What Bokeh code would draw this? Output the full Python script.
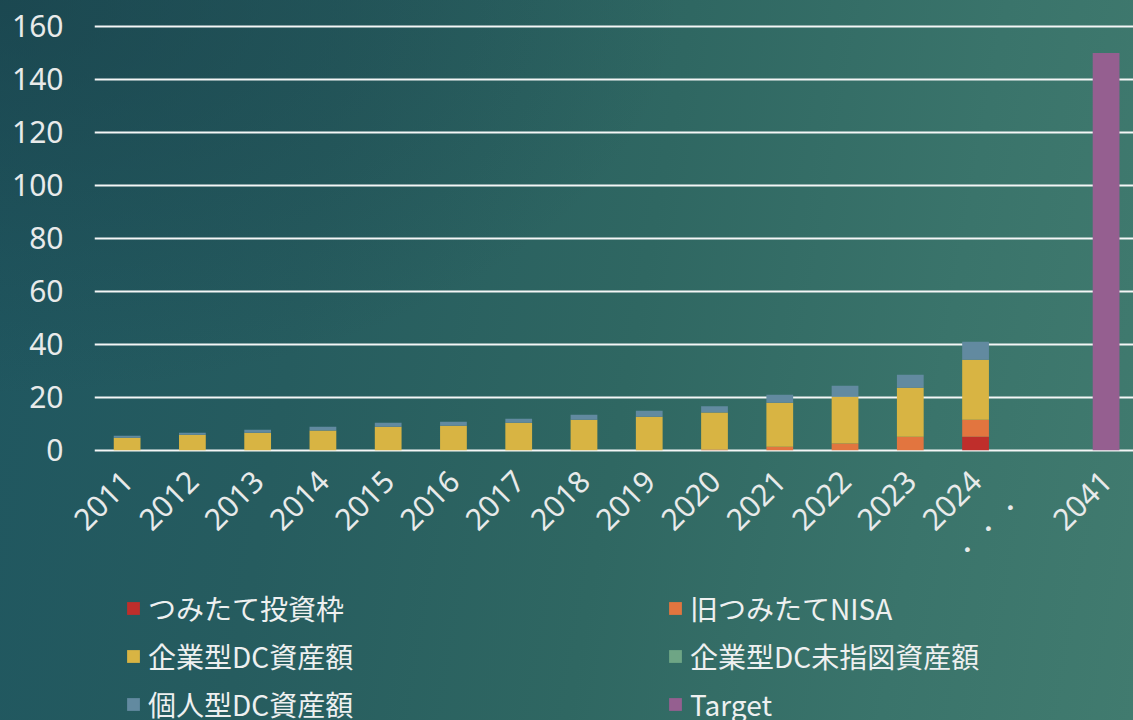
import math
from bokeh.plotting import figure
from bokeh.layouts import column
from bokeh.models import Range1d, FixedTicker, ColumnDataSource, Legend, LegendItem
from bokeh.embed import file_html
from bokeh.resources import INLINE

# ---- data ----
categories = ["2011", "2012", "2013", "2014", "2015", "2016", "2017", "2018",
              "2019", "2020", "2021", "2022", "2023", "2024", "・・・\u3000", "2041"]
tsumitate_waku = [0, 0, 0, 0, 0, 0, 0, 0, 0, 0, 0, 0, 0, 5.1, 0, 0]
old_tsumitate_nisa = [0, 0, 0, 0, 0, 0, 0, 0, 0, 0.3, 1.3, 2.5, 5.1, 6.4, 0, 0]
corp_dc = [4.7, 5.8, 6.6, 7.4, 8.9, 9.2, 10.4, 11.5, 12.6, 13.9, 16.6, 17.7, 18.5, 22.7, 0, 0]
corp_dc_undirected = [0, 0, 0, 0, 0, 0, 0, 0, 0, 0, 0, 0, 0, 0, 0, 0]
ideco = [0.8, 0.8, 1.1, 1.5, 1.5, 1.5, 1.5, 1.9, 2.3, 2.4, 3.0, 4.1, 4.9, 6.8, 0, 0]
target = [0, 0, 0, 0, 0, 0, 0, 0, 0, 0, 0, 0, 0, 0, 0, 150]
series_names = ["つみたて投資枠", "旧つみたてNISA", "企業型DC資産額",
                "企業型DC未指図資産額", "個人型DC資産額", "Target"]
y_ticks = [0, 20, 40, 60, 80, 100, 120, 140, 160]

series_colors = ["#bf2e2b", "#e2753f", "#d8b443", "#6ea585", "#628aa0", "#955f90"]

keys = ["s0", "s1", "s2", "s3", "s4", "s5"]
src = ColumnDataSource(dict(
    x=list(range(len(categories))),
    s0=tsumitate_waku, s1=old_tsumitate_nisa, s2=corp_dc,
    s3=corp_dc_undirected, s4=ideco, s5=target,
))

# ---- main chart ----
p = figure(frame_width=1039, frame_height=445, output_backend="svg",
           toolbar_location=None,
           x_range=Range1d(-0.5, 15.42), y_range=Range1d(-2, 166.04),
           min_border_left=94, min_border_right=0, min_border_top=10,
           min_border_bottom=140)
p.background_fill_color = None
p.border_fill_color = None
p.outline_line_color = None

renderers = p.vbar_stack(keys, x="x", width=0.41, fill_color=series_colors,
                         line_color=None, source=src)

p.xaxis.ticker = FixedTicker(ticks=list(range(len(categories))))
p.xaxis.major_label_overrides = {i: c for i, c in enumerate(categories)}
p.xaxis.major_label_orientation = math.pi / 4
p.xaxis.axis_line_color = None
p.xaxis.major_tick_line_color = None
p.xaxis.minor_tick_line_color = None
p.xaxis.major_tick_out = 0
p.xaxis.major_label_standoff = 20
p.xaxis.major_label_text_font = "Noto Sans"
p.xaxis.major_label_text_font_size = "30px"
p.xaxis.major_label_text_color = "#e8eaea"

p.yaxis.ticker = FixedTicker(ticks=y_ticks)
p.yaxis.axis_line_color = None
p.yaxis.major_tick_line_color = None
p.yaxis.minor_tick_line_color = None
p.yaxis.major_tick_out = 0
p.yaxis.major_label_standoff = 31
p.yaxis.major_label_text_font = "Noto Sans"
p.yaxis.major_label_text_font_size = "30px"
p.yaxis.major_label_text_color = "#e8eaea"

p.xgrid.grid_line_color = None
p.ygrid.ticker = FixedTicker(ticks=y_ticks)
p.ygrid.grid_line_color = "#f4f6f6"
p.ygrid.grid_line_width = 2

# ---- legend panel ----
pl = figure(width=1133, height=125, output_backend="svg", toolbar_location=None,
            x_range=Range1d(0, 1), y_range=Range1d(0, 1), min_border=0,
            x_axis_location=None, y_axis_location=None)
pl.grid.grid_line_color = None
pl.outline_line_color = None
pl.background_fill_color = None
pl.border_fill_color = None
# zero-height swatch renderers (only used for the legend keys)
swatches = [pl.vbar(x=[0.5], top=[0], bottom=[0], width=0.01,
                    fill_color=c, line_color=None)
            for c in series_colors]

legend = Legend(
    items=[LegendItem(label=n, renderers=[r]) for n, r in zip(series_names, swatches)],
    orientation="horizontal", ncols=2, location=(31, -4),
    padding=0, margin=0, spacing=8,
    glyph_width=16, glyph_height=16, label_standoff=7, label_width=511,
    label_height=40,
    label_text_font="Noto Sans CJK JP", label_text_font_size="28px",
    label_text_color="#eef0f0",
    background_fill_alpha=0, border_line_alpha=0,
)
pl.add_layout(legend, "center")

layout = column(p, pl, spacing=0)

html = file_html(layout, INLINE)
style = ("<style>html,body{min-height:100%;}"
         "body{background:"
         "radial-gradient(ellipse 60% 55% at 0% 0%, rgba(24,60,68,0.55) 0%, rgba(24,60,68,0) 100%),"
         "linear-gradient(100deg,#1f5660 0%,#265c5f 28%,#2f6762 55%,#3a746b 80%,#417b6f 100%);}"
         "</style>")
html = html.replace("</head>", style + "</head>", 1)
open("out.html", "w").write(html)
